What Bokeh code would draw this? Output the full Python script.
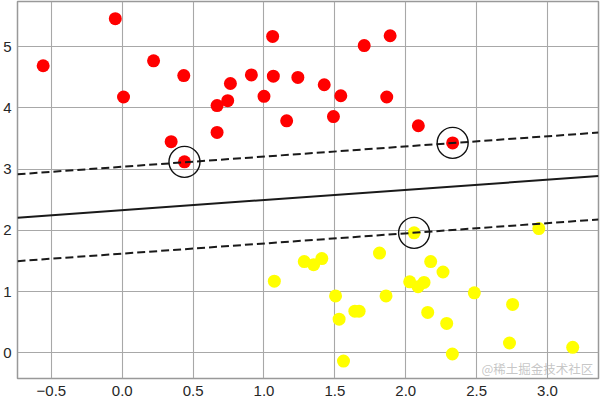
from bokeh.plotting import figure
from bokeh.models import Range1d, SingleIntervalTicker, CustomJSTickFormatter, Label
from bokeh.embed import file_html
from bokeh.resources import INLINE

# class 0 (red) points
red_x = [-0.558, -0.049, 0.009, 0.221, 0.434, 0.345, 0.439, 0.669, 0.669, 0.744,
         0.763, 0.911, 1.000, 1.061, 1.066, 1.160, 1.239, 1.707, 1.890, 1.425,
         1.542, 1.490, 1.866, 2.089, 2.331]
red_y = [4.69, 5.46, 4.18, 4.77, 4.53, 3.45, 3.12, 4.04, 3.60, 4.12,
         4.40, 4.54, 4.19, 5.17, 4.52, 3.79, 4.50, 5.02, 5.18, 4.38,
         4.20, 3.86, 4.18, 3.71, 3.43]
# class 1 (yellow) points
yel_x = [1.073, 1.284, 1.350, 1.408, 1.505, 1.530, 1.561, 1.641, 1.671, 1.815,
         1.861, 2.059, 2.028, 2.087, 2.129, 2.176, 2.263, 2.155, 2.289, 2.329,
         2.484, 2.754, 2.732, 2.939, 3.178]
yel_y = [1.17, 1.49, 1.44, 1.54, 0.93, 0.55, -0.135, 0.68, 0.68, 1.63,
         0.93, 1.96, 1.16, 1.08, 1.15, 1.49, 1.32, 0.66, 0.48, -0.02,
         0.98, 0.79, 0.16, 2.03, 0.09]
# support vectors (index into red / yellow)
sv_red = [6, 24]
sv_yel = [11]
# fitted linear SVM boundary y = slope*x + intercept, margins at +/- margin
slope = 0.166
intercept = 2.33
margin = 0.71

x0, x1 = -0.739, 3.36
y0, y1 = -0.42, 5.74

p = figure(width=600, height=398, output_backend="svg", toolbar_location=None,
           x_range=Range1d(x0, x1), y_range=Range1d(y0, y1),
           min_border_left=0, min_border_right=2, min_border_top=1, min_border_bottom=0)
p.background_fill_color = "white"
p.border_fill_color = "white"
p.outline_line_color = "#999999"
p.outline_line_width = 1.5

p.grid.grid_line_color = "#a8a8a8"
p.grid.grid_line_width = 1.1
p.xaxis.ticker = SingleIntervalTicker(interval=0.5)
p.yaxis.ticker = SingleIntervalTicker(interval=1)
p.xaxis.formatter = CustomJSTickFormatter(code="return tick.toFixed(1).replace('-', '\u2212');")
p.yaxis.formatter = CustomJSTickFormatter(code="return tick.toFixed(0).replace('-', '\u2212');")
for ax in (p.xaxis, p.yaxis):
    ax.axis_line_color = None
    ax.major_tick_line_color = None
    ax.minor_tick_line_color = None
    ax.major_tick_out = 0
    ax.major_tick_in = 0
    ax.major_label_text_font = "Liberation Sans"
    ax.major_label_text_font_size = "15px"
    ax.major_label_text_color = "#262626"
p.xaxis.major_label_standoff = 3
p.yaxis.major_label_standoff = 2

p.scatter(red_x, red_y, size=13, color="#ff0000", line_color=None)
p.scatter(yel_x, yel_y, size=13, color="#ffff00", line_color=None)

xs = [x0, x1]
p.line(xs, [slope * x + intercept for x in xs], line_color="#1a1a1a", line_width=2)
p.line(xs, [slope * x + intercept + margin for x in xs], line_color="#1a1a1a",
       line_width=2, line_dash="8 4")
p.line(xs, [slope * x + intercept - margin for x in xs], line_color="#1a1a1a",
       line_width=2, line_dash="8 4")

svx = [red_x[i] for i in sv_red] + [yel_x[i] for i in sv_yel]
svy = [red_y[i] for i in sv_red] + [yel_y[i] for i in sv_yel]
p.scatter(svx, svy, size=31, fill_color=None, line_color="#111111", line_width=1.4)

wm = Label(x=464, y=1, x_units="screen", y_units="screen", text="@稀土掘金技术社区",
           text_font="Noto Sans CJK SC", text_font_size="12.5px", text_color="#b8b8b8",
           text_alpha=0.8, text_baseline="bottom")
p.add_layout(wm)

open("out.html", "w").write(file_html(p, INLINE))
